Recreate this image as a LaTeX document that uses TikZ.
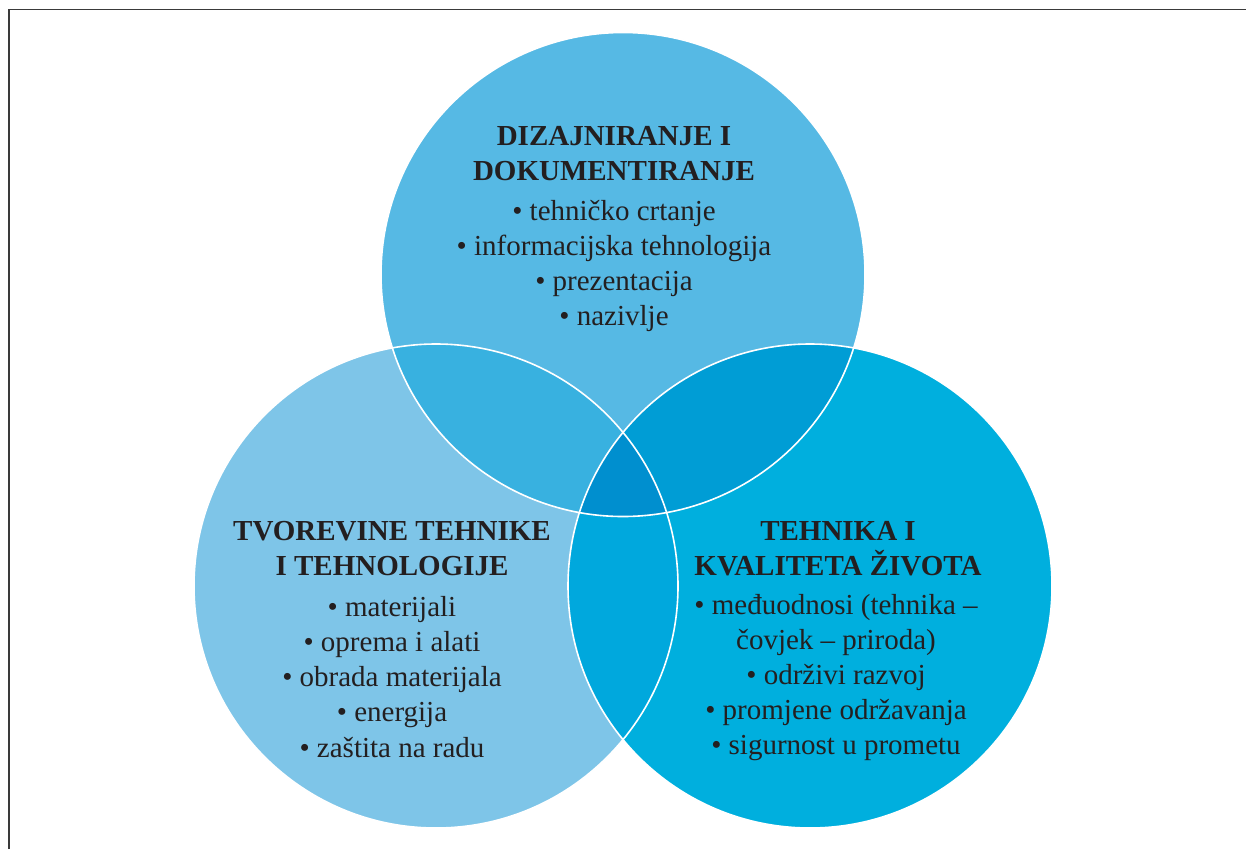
\documentclass[tikz,border=0pt]{standalone}
\usepackage{fontspec}
\setmainfont{Liberation Serif}
\usepackage{xcolor}
\definecolor{topblue}{HTML}{56B9E4}
\definecolor{leftblue}{HTML}{7EC5E8}
\definecolor{rightblue}{HTML}{00AFDE}
\definecolor{topleft}{HTML}{38B1E0}
\definecolor{topright}{HTML}{009DD5}
\definecolor{leftright}{HTML}{00A8DD}
\definecolor{midblue}{HTML}{008FCF}
\definecolor{txt}{HTML}{231F20}
\definecolor{framegray}{HTML}{3A3A3A}

\begin{document}
\begin{tikzpicture}[x=1pt,y=-1pt,
  lbl/.style={anchor=base, inner sep=0, text=txt, font=\fontsize{29}{35}\selectfont},
  head/.style={lbl, font=\fontsize{29}{35}\selectfont\bfseries}]
\useasboundingbox (0,0) rectangle (1246,849);
\fill[white] (0,0) rectangle (1246,849);
\draw[framegray, line width=1.3pt] (9,849) -- (9,9.5) -- (1246,9.5);
\coordinate (ctop) at (623,274.5);
\coordinate (cleft) at (436,586);
\coordinate (cright) at (810,586);
\def\rad{242pt}
\fill[topblue] (ctop) circle[radius=\rad];
\fill[leftblue] (cleft) circle[radius=\rad];
\fill[rightblue] (cright) circle[radius=\rad];
\begin{scope}
 \clip (ctop) circle[radius=\rad];
 \fill[topleft] (cleft) circle[radius=\rad];
 \fill[topright] (cright) circle[radius=\rad];
\end{scope}
\begin{scope}
 \clip (cleft) circle[radius=\rad];
 \fill[leftright] (cright) circle[radius=\rad];
 \clip (ctop) circle[radius=\rad];
 \fill[midblue] (cright) circle[radius=\rad];
\end{scope}
\foreach \c in {ctop,cleft,cright}
 \draw[white, line width=1.6pt] (\c) circle[radius=\rad];
% top circle
\foreach \t [count=\i] in {DIZAJNIRANJE I, DOKUMENTIRANJE}
 \node[head] (dhead\i) at (614,110+35*\i) {\t};
\foreach \t [count=\i] in {• tehničko crtanje, • informacijska tehnologija, • prezentacija, • nazivlje}
 \node[lbl] (ditem\i) at (614,185+35*\i) {\t};
% left circle
\foreach \t [count=\i] in {TVOREVINE TEHNIKE, I TEHNOLOGIJE}
 \node[head] (thead\i) at (392,505+35*\i) {\t};
\foreach \t [count=\i] in {• materijali, • oprema i alati, • obrada materijala, • energija, • zaštita na radu}
 \node[lbl] (titem\i) at (392,581+35.2*\i) {\t};
% right circle
\foreach \t [count=\i] in {TEHNIKA I, KVALITETA ŽIVOTA}
 \node[head] (khead\i) at (838,505+35*\i) {\t};
\foreach \t [count=\i] in {• međuodnosi (tehnika –, čovjek – priroda), • održivi razvoj, • promjene održavanja, • sigurnost u prometu}
 \node[lbl] (kitem\i) at (836,579+35*\i) {\t};
\end{tikzpicture}
\end{document}
